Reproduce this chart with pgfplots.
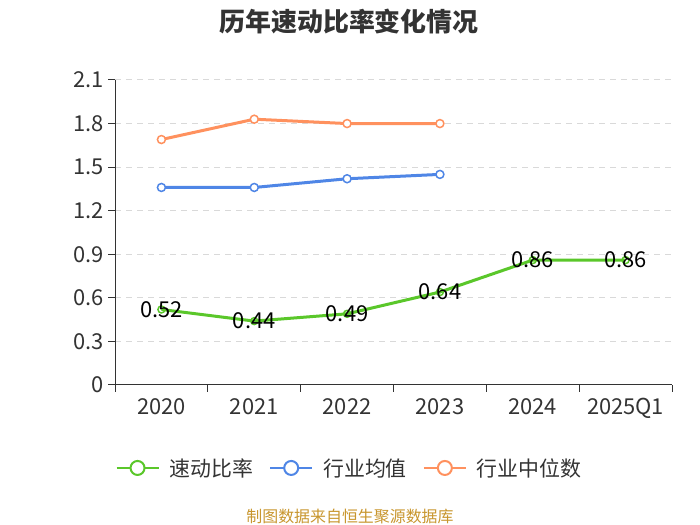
\documentclass[border=0pt]{standalone}
\usepackage{fontspec}
\setmainfont{Noto Sans CJK SC}
\usepackage{pgfplots}
\pgfplotsset{compat=1.18}
\definecolor{cgreen}{HTML}{5AC72A}
\definecolor{cblue}{HTML}{4F86E6}
\definecolor{corange}{HTML}{FF915E}
\definecolor{ctext}{HTML}{333333}
\definecolor{cgrid}{HTML}{D9D9D9}
\definecolor{cfoot}{HTML}{C8962E}
\begin{document}
\begin{tikzpicture}[x=1bp,y=1bp]
\path[use as bounding box] (0,0) rectangle (700,525);
\node[font=\bfseries\fontsize{26}{26}\selectfont, text=ctext] at (349,503) {历年速动比率变化情况};
\node[font=\fontsize{16}{16}\selectfont, text=cfoot] at (350,8) {制图数据来自恒生聚源数据库};
\begin{axis}[
  at={(115bp,140bp)}, anchor=south west, scale only axis,
  width=557bp, height=305bp,
  xmin=-0.5, xmax=5.5, ymin=0, ymax=2.1,
  axis x line*=bottom, axis y line*=left,
  axis line style={ctext, line width=1pt},
  xtick={0,1,2,3,4,5},
  xticklabels={2020,2021,2022,2023,2024,2025Q1},
  major x tick style={draw=none},
  minor xtick={-0.5,0.5,1.5,2.5,3.5,4.5,5.5},
  minor x tick style={ctext, line width=1pt},
  minor tick length=7bp,
  xtick align=outside, ytick align=outside,
  ytick={0,0.3,0.6,0.9,1.2,1.5,1.8,2.1},
  yticklabels={0,0.3,0.6,0.9,1.2,1.5,1.8,2.1},
  major y tick style={ctext, line width=1pt},
  major tick length=7bp,
  ymajorgrids,
  grid style={cgrid, dashed, line width=1pt, dash pattern=on 6bp off 5bp},
  tick label style={font=\fontsize{22}{22}\selectfont, text=ctext},
  /pgf/number format/assume math mode=true,
  xticklabel style={yshift=-3bp},
  yticklabel style={xshift=-1bp},
  legend columns=3,
  legend style={at={(0.421,-0.272)}, anchor=center, draw=none, fill=none,
    font=\fontsize{21}{21}\selectfont, text=ctext,
    /tikz/every odd column/.append style={column sep=8bp},
    /tikz/every even column/.append style={column sep=14bp}},
  legend image code/.code={
    \draw[#1, mark=none, line width=2bp] (0bp,0bp) -- (42bp,0bp);
    \draw[#1, mark=none, fill=white, line width=2bp] (21bp,0bp) circle (7bp);
  },
]
\addplot[cgreen, line width=3bp, mark=o, mark size=3.5bp, mark options={fill=white, line width=1.5bp},
  nodes near coords, point meta=explicit symbolic,
  every node near coord/.append style={anchor=center, font=\fontsize{22}{22}\selectfont, text=black}]
  coordinates {(0,0.52)[0.52] (1,0.44)[0.44] (2,0.49)[0.49] (3,0.64)[0.64] (4,0.86)[0.86] (5,0.86)[0.86]};
\addlegendentry{速动比率}
\addplot[cblue, line width=3bp, mark=*, mark size=4bp, mark options={fill=white, line width=1.5bp}]
  coordinates {(0,1.36) (1,1.36) (2,1.42) (3,1.45)};
\addlegendentry{行业均值}
\addplot[corange, line width=3bp, mark=*, mark size=4bp, mark options={fill=white, line width=1.5bp}]
  coordinates {(0,1.69) (1,1.83) (2,1.80) (3,1.80)};
\addlegendentry{行业中位数}
\end{axis}
\end{tikzpicture}
\end{document}
